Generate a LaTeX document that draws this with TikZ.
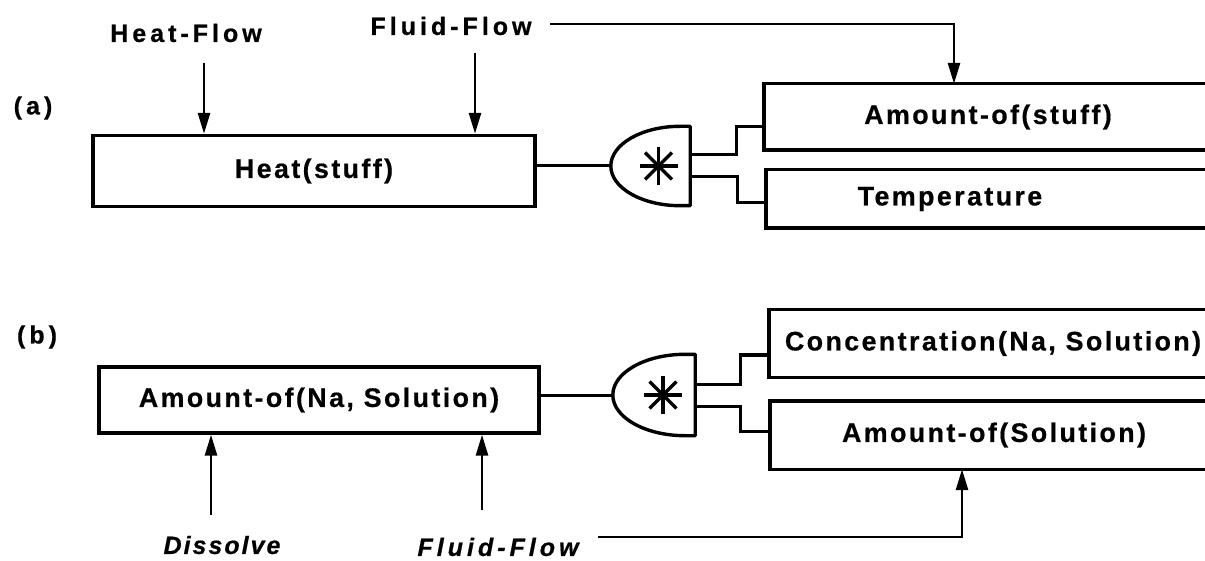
\documentclass[tikz,border=0pt]{standalone}
\usepackage{fontspec}
\newfontfamily\boxfont{Liberation Sans}[LetterSpace=9, FakeBold=0.6]
\newfontfamily\flowfont{Liberation Sans}[LetterSpace=16, FakeBold=0.6]
\newfontfamily\dissfont{Liberation Sans}[LetterSpace=8, FakeBold=0.6]
\usetikzlibrary{arrows.meta}
\begin{document}
\begin{tikzpicture}[x=1pt,y=-1pt,
  txt/.style={font=\boxfont\bfseries\fontsize{26.8}{30}\selectfont, inner sep=0pt},
  ftxt/.style={font=\flowfont\bfseries\fontsize{25}{28}\selectfont, inner sep=0pt},
  itxt/.style={font=\flowfont\bfseries\itshape\fontsize{25}{28}\selectfont, inner sep=0pt},
  dtxt/.style={font=\dissfont\bfseries\itshape\fontsize{25}{28}\selectfont, inner sep=0pt},
  box/.style={txt, draw, line width=3.4pt},
  obox/.style={txt},
  boxline/.style={line width=3.4pt},
  ln/.style={line width=3pt},
  ast/.style={line width=3.4pt},
  arr/.style={line width=2.8pt, -{Triangle[length=21pt,width=12pt]}},
  gatebox/.style={minimum width=79pt, minimum height=79pt, inner sep=0pt}
]
\useasboundingbox (0,0) rectangle (1205,561);
\coordinate (R) at (1206,0);

% ---------- (a) ----------
\node[ftxt] (la) at (33,108) {(a)};
\node[ftxt] (heatflow) at (186,33) {Heat-Flow};
\node[ftxt] (ffA) at (451,26) {Fluid-Flow};
\node[box, minimum width=442pt, minimum height=71pt] (heatstuff) at (314,171) {Heat(stuff)};

\node[obox, minimum width=448pt, minimum height=66pt] (amtstuff) at (988,117) {Amount-of(stuff)};
\node[obox, minimum width=368pt, minimum height=58pt] (temp) at (950,199) {Temperature};
\draw[boxline] (amtstuff.north west -| R) -- (amtstuff.north west) -- (amtstuff.south west) -- (amtstuff.south west -| R);
\draw[boxline] (temp.north west -| R) -- (temp.north west) -- (temp.south west) -- (temp.south west -| R);

\node[gatebox] (gA) at (650.5,166) {};
\draw[boxline, line join=round] (gA.north east) -- ([xshift=-10pt]gA.north east)
  .. controls +(-38,0) and +(0,-22) .. (gA.west)
  .. controls +(0,22) and +(-38,0) .. ([xshift=-10pt]gA.south east)
  -- (gA.south east) -- cycle;
\coordinate (sA) at ([xshift=8pt]gA.center);
\draw[ast] (sA) ++(-19,0) -- ++(38,0);
\draw[ast] (sA) ++(0,-19) -- ++(0,38);
\draw[ast] (sA) ++(-13.4,-13.4) -- ++(26.8,26.8);
\draw[ast] (sA) ++(-13.4,13.4) -- ++(26.8,-26.8);

\draw[ln] (gA.west -| heatstuff.east) -- (gA.west);
\draw[ln] ([yshift=11pt]gA.east) -- ++(46,0) |- ([yshift=-10pt]amtstuff.west);
\draw[ln] ([yshift=-11pt]gA.east) -- ++(47,0) |- ([yshift=-4pt]temp.west);

\coordinate (hfA) at (204,63);
\draw[arr] (hfA) -- (hfA |- heatstuff.north);
\coordinate (ffAa) at (475,53);
\draw[arr] (ffAa) -- (ffAa |- heatstuff.north);
\coordinate (ffAl) at (550,24);
\draw[arr] (ffAl) -| ([xshift=-34pt]amtstuff.north);

% ---------- (b) ----------
\node[ftxt] (lb) at (37,337) {(b)};
\node[box, minimum width=440pt, minimum height=66pt] (amtnasol) at (319,400) {Amount-of(Na, Solution)};

\node[obox, minimum width=448pt, minimum height=67pt] (conc) at (993,343.5) {Concentration(Na, Solution)};
\node[obox, minimum width=448pt, minimum height=68pt] (amtsol) at (994,435) {Amount-of(Solution)};
\draw[boxline] (conc.north west -| R) -- (conc.north west) -- (conc.south west) -- (conc.south west -| R);
\draw[boxline] (amtsol.north west -| R) -- (amtsol.north west) -- (amtsol.south west) -- (amtsol.south west -| R);

\node[gatebox, minimum width=82pt, minimum height=81pt] (gB) at (654,395) {};
\draw[boxline, line join=round] (gB.north east) -- ([xshift=-10pt]gB.north east)
  .. controls +(-40,0) and +(0,-22.4) .. (gB.west)
  .. controls +(0,22.4) and +(-40,0) .. ([xshift=-10pt]gB.south east)
  -- (gB.south east) -- cycle;
\coordinate (sB) at ([xshift=9pt]gB.center);
\draw[ast] (sB) ++(-19,0) -- ++(38,0);
\draw[ast] (sB) ++(0,-19) -- ++(0,38);
\draw[ast] (sB) ++(-13.4,-13.4) -- ++(26.8,26.8);
\draw[ast] (sB) ++(-13.4,13.4) -- ++(26.8,-26.8);

\draw[ln] (gB.west -| amtnasol.east) -- (gB.west);
\draw[ln] ([yshift=11pt]gB.east) -- ++(45,0) |- ([yshift=-11.5pt]conc.west);
\draw[ln] ([yshift=-11pt]gB.east) -- ++(45,0) |- ([yshift=4pt]amtsol.west);

\node[dtxt] (dissolve) at (222,545) {Dissolve};
\node[itxt] (ffB) at (498,547) {Fluid-Flow};
\coordinate (dsB) at (211,515);
\draw[arr] (dsB) -- (dsB |- amtnasol.south);
\coordinate (ffBa) at (482,510);
\draw[arr] (ffBa) -- (ffBa |- amtnasol.south);
\coordinate (ffBl) at (598,537);
\draw[arr] (ffBl) -| ([xshift=-32pt]amtsol.south);
\end{tikzpicture}
\end{document}
